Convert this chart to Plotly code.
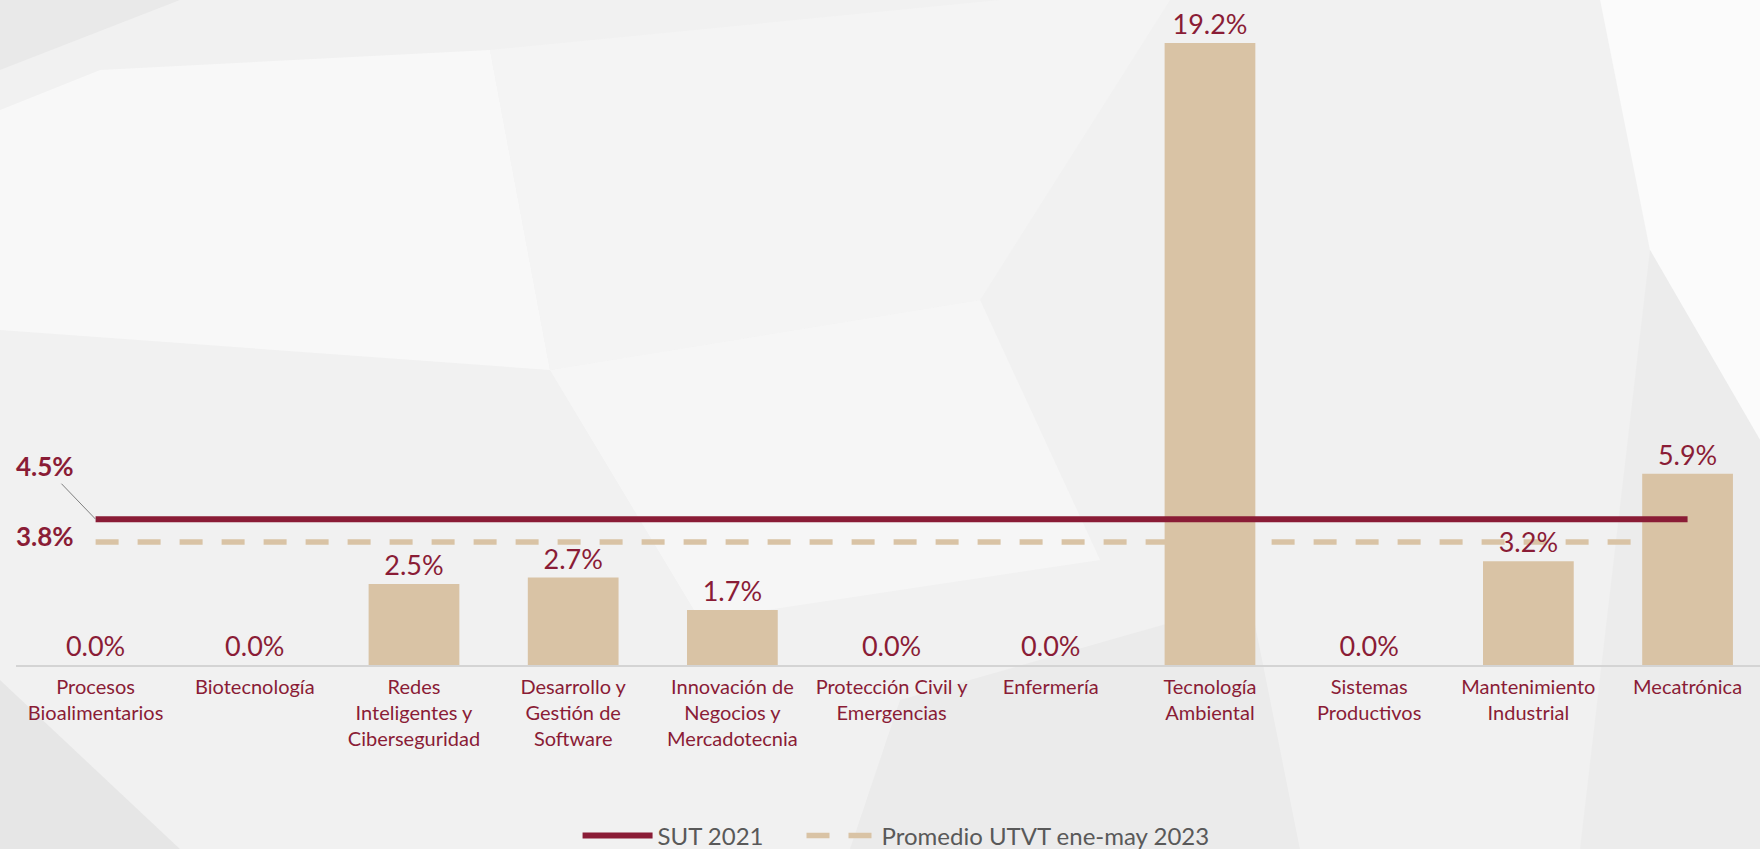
import plotly.graph_objects as go

# datos
carreras = ["Procesos Bioalimentarios", "Biotecnología", "Redes Inteligentes y Ciberseguridad",
            "Desarrollo y Gestión de Software", "Innovación de Negocios y Mercadotecnia",
            "Protección Civil y Emergencias", "Enfermería", "Tecnología Ambiental",
            "Sistemas Productivos", "Mantenimiento Industrial", "Mecatrónica"]
etiquetas = ["Procesos<br>Bioalimentarios", "Biotecnología", "Redes<br>Inteligentes y<br>Ciberseguridad",
             "Desarrollo y<br>Gestión de<br>Software", "Innovación de<br>Negocios y<br>Mercadotecnia",
             "Protección Civil y<br>Emergencias", "Enfermería", "Tecnología<br>Ambiental",
             "Sistemas<br>Productivos", "Mantenimiento<br>Industrial", "Mecatrónica"]
porcentajes = [0.0, 0.0, 2.5, 2.7, 1.7, 0.0, 0.0, 19.2, 0.0, 3.2, 5.9]
sut_2021 = [4.5] * len(carreras)
promedio_utvt = [3.8] * len(carreras)

GUINDA = "#8a1c36"
ARENA = "#d9c3a5"
FUENTE = "Lato"

W, H = 1760, 849
ML, MB = 16, 184


def px2paper(pts):
    # decorative background polygons given in pixels
    return "M " + " L ".join(f"{(x - ML) / (W - ML):.4f},{(H - MB - y) / (H - MB):.4f}" for x, y in pts) + " Z"


fondo = [
    ([(0, 0), (180, 0), (0, 70)], "#e9e9e9"),
    ([(100, 70), (490, 50), (550, 370), (0, 330), (0, 110)], "#f8f8f8"),
    ([(490, 50), (1000, 0), (1170, 0), (980, 300), (550, 370)], "#f4f4f4"),
    ([(1650, 250), (1600, 0), (1760, 0), (1760, 440)], "#fbfbfb"),
    ([(1650, 250), (1760, 440), (1760, 849), (1580, 849)], "#ececec"),
    ([(0, 680), (180, 849), (0, 849)], "#e6e6e6"),
    ([(900, 700), (1250, 600), (1300, 849), (850, 849)], "#ebebeb"),
    ([(550, 370), (980, 300), (1100, 560), (700, 620)], "#f6f6f6"),
]
formas = [dict(type="path", xref="paper", yref="paper", path=px2paper(p), fillcolor=c,
               line=dict(width=0), layer="below") for p, c in fondo]

fig = go.Figure()

# promedio (debajo de las barras)
fig.add_trace(go.Scatter(x=carreras, y=promedio_utvt, mode="lines", name="Promedio UTVT ene-may 2023",
                         line=dict(color=ARENA, width=5.5, dash="23px,19px"),
                         legend="legend2", hoverinfo="skip"))

fig.add_trace(go.Bar(x=carreras, y=porcentajes, yaxis="y2", marker=dict(color=ARENA, line=dict(width=0)),
                     texttemplate="%{y:.1f}%", textposition="outside", constraintext="none",
                     cliponaxis=False, textfont=dict(color=GUINDA, size=27, family=FUENTE),
                     showlegend=False, width=0.57))

fig.add_trace(go.Scatter(x=carreras, y=sut_2021, yaxis="y2", mode="lines", name="SUT 2021",
                         line=dict(color=GUINDA, width=6), legend="legend"))

fig.add_annotation(x=carreras[0], y=sut_2021[0], yref="y2", text="<b>4.5%</b>", showarrow=True,
                   ax=-51, ay=-53, arrowhead=0, arrowwidth=1, arrowcolor="#7f7f7f", standoff=0,
                   font=dict(color=GUINDA, size=26, family=FUENTE))
fig.add_annotation(x=carreras[0], y=promedio_utvt[0], yref="y2", text="<b>3.8%</b>", showarrow=False,
                   xshift=-51, yshift=6, font=dict(color=GUINDA, size=26, family=FUENTE))

leyenda = dict(orientation="h", xanchor="left", yref="container", y=13 / H, yanchor="middle",
               bgcolor="rgba(0,0,0,0)", font=dict(size=24, color="#595959", family=FUENTE),
               itemwidth=70, tracegroupgap=0)

rango_y = [0, (H - MB) / 32.4]
fig.update_layout(
    width=W, height=H,
    margin=dict(l=ML, r=0, t=0, b=MB),
    paper_bgcolor="#f1f1f1", plot_bgcolor="rgba(0,0,0,0)",
    font=dict(family=FUENTE, color=GUINDA),
    bargap=0.43,
    shapes=formas,
    xaxis=dict(type="category", tickvals=carreras, ticktext=etiquetas, range=[-0.5, 10.455],
               showline=True, linecolor="#d4d4d4", linewidth=2, showgrid=False, ticks="",
               tickfont=dict(size=20, color=GUINDA, family=FUENTE), ticklabelstandoff=3),
    yaxis=dict(range=rango_y, visible=False, showgrid=False),
    yaxis2=dict(range=rango_y, visible=False, showgrid=False, overlaying="y"),
    legend=dict(leyenda, x=0.322),
    legend2=dict(leyenda, x=0.4504),
    showlegend=True,
)

fig.write_html("out.html", config={"displayModeBar": False},
               post_script="document.body.style.margin='0';document.body.style.overflow='hidden';")
